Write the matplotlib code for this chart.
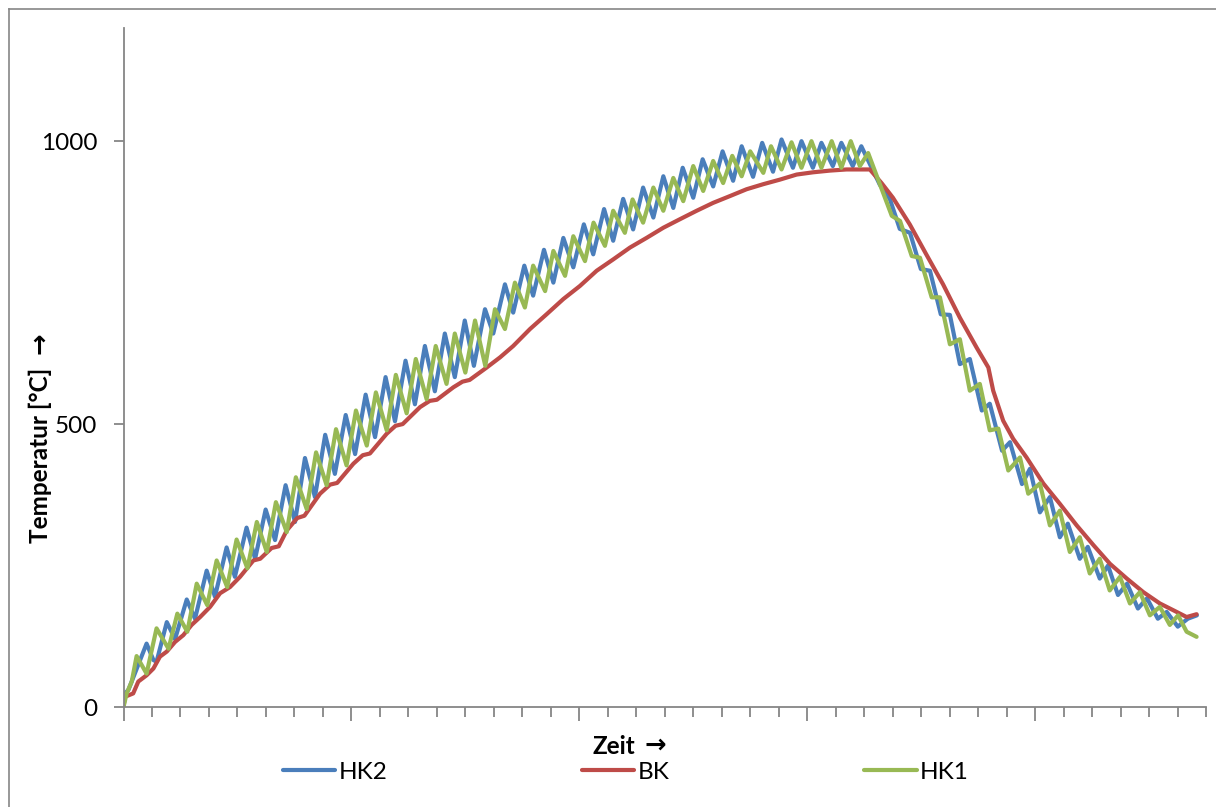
import matplotlib
matplotlib.use("Agg")
import matplotlib.pyplot as plt
from matplotlib.lines import Line2D

plt.rcParams['font.family'] = ['Lato', 'DejaVu Sans']

# Zeit in Teilstrichen der x-Achse, Temperatur in °C
zeit_hk2 = [0.00, 0.05, 0.17, 0.81, 1.05, 1.16, 1.52, 1.81, 2.22, 2.51, 2.92, 3.21,
            3.62, 3.91, 4.32, 4.62, 4.99, 5.32, 5.69, 6.02, 6.37, 6.72, 7.08, 7.42,
            7.80, 8.13, 8.50, 8.83, 9.20, 9.53, 9.90, 10.23, 10.58, 10.93, 11.28, 11.63,
            11.98, 12.30, 12.69, 12.98, 13.39, 13.68, 14.07, 14.38, 14.76, 15.09, 15.44,
            15.79, 16.16, 16.49, 16.87, 17.19, 17.54, 17.89, 18.24, 18.60, 18.95, 19.30,
            19.63, 20.00, 20.33, 20.70, 21.03, 21.40, 21.70, 22.10, 22.42, 22.80, 23.10,
            23.50, 23.80, 24.20, 24.50, 24.90, 25.20, 25.60, 25.90,
            26.55, 26.90, 27.25, 27.61, 27.99, 28.31, 28.69, 29.01, 29.36, 29.71, 30.13,
            30.41, 30.84, 31.12, 31.54, 31.82, 32.17, 32.52, 32.87, 33.15, 33.57, 33.85,
            34.27, 34.56, 34.91, 35.23, 35.61, 35.93, 36.31, 36.62, 37.01, 37.36, 37.68]
temp_hk2 = [0, 24, 30, 112, 83, 80, 150, 120, 190, 156, 241, 195,
            282, 230, 317, 262, 349, 295, 392, 327, 440, 371, 481, 412,
            516, 447, 552, 477, 583, 505, 612, 535, 638, 558, 660, 583,
            683, 603, 703, 660, 747, 697, 780, 727, 808, 750, 829,
            777, 853, 800, 880, 824, 898, 844, 918, 865, 938, 882,
            953, 900, 968, 920, 982, 930, 991, 937, 997, 946, 1003,
            953, 1000, 953, 997, 956, 997, 956, 991,
            923, 898, 845, 838, 774, 771, 694, 693, 606, 615, 524,
            536, 453, 468, 394, 421, 344, 371, 300, 324, 262, 283,
            227, 250, 198, 218, 174, 192, 156, 168, 142, 156, 162]

zeit_bk = [0.00, 0.05, 0.34, 0.52, 0.81, 1.05, 1.28, 1.52, 1.81, 2.10, 2.39, 2.69,
           3.04, 3.39, 3.74, 4.09, 4.56, 4.80, 5.20, 5.45, 5.73, 6.10, 6.35, 6.90,
           7.25, 7.50, 8.07, 8.40, 8.65, 9.24, 9.55, 9.80, 10.41, 10.75, 11.00, 11.58,
           11.90, 12.15, 12.75,
           13.22, 13.68, 14.27, 14.85, 15.44, 16.02, 16.61, 17.19, 17.78, 18.36, 18.95,
           19.53, 20.12, 20.70, 21.29, 21.87, 22.46, 23.04, 23.63, 24.21, 24.80, 25.38,
           26.20, 26.61, 27.01, 27.60, 28.18, 28.77, 29.36, 29.95, 30.36, 30.53, 30.88,
           31.23, 31.70, 32.29, 32.87, 33.46, 34.05, 34.63, 35.22, 35.80, 36.38, 36.97,
           37.32, 37.67]
temp_bk = [0, 18, 24, 45, 56, 68, 89, 98, 115, 127, 145, 159,
           177, 201, 212, 230, 259, 262, 281, 284, 312, 334, 338, 377,
           393, 396, 430, 445, 448, 483, 497, 500, 530, 541, 543, 565,
           575, 578, 600,
           618, 638, 668, 694, 721, 744, 771, 791, 812, 829, 847,
           862, 877, 891, 903, 915, 924, 932, 941, 945, 948, 950,
           950, 926, 900, 853, 800, 747, 688, 635, 600, 559, 506,
           474, 441, 395, 359, 321, 286, 253, 227, 203, 183, 168,
           159, 164]

zeit_hk1 = [0.00, 0.11, 0.29, 0.46, 0.81, 1.16, 1.58, 1.89, 2.24, 2.57, 2.94, 3.27,
            3.64, 3.97, 4.35, 4.68, 5.03, 5.35, 5.73, 6.05, 6.43, 6.76, 7.13, 7.46,
            7.83, 8.16, 8.54, 8.86, 9.24, 9.56, 9.94, 10.26, 10.64, 10.96, 11.34, 11.63,
            12.00, 12.34, 12.70, 13.04, 13.39, 13.74, 14.09, 14.38, 14.80, 15.09, 15.50,
            15.79, 16.20, 16.50, 16.90, 17.19, 17.60, 17.87, 18.24, 18.60, 18.95, 19.30,
            19.65, 20.00, 20.35, 20.70, 21.05, 21.37, 21.70, 22.00, 22.46, 22.73, 23.10,
            23.45, 23.80, 24.15, 24.50, 24.86, 25.20, 25.53, 25.85, 26.14,
            26.97, 27.26, 27.67, 27.96, 28.37, 28.66, 29.01, 29.36, 29.71, 30.06, 30.41,
            30.71, 31.06, 31.47, 31.76, 32.17, 32.52, 32.87, 33.22, 33.57, 33.92, 34.27,
            34.62, 34.98, 35.33, 35.68, 36.03, 36.38, 36.73, 37.02, 37.32, 37.67]
temp_hk1 = [0, 24, 45, 90, 59, 139, 103, 165, 133, 218, 180, 259,
            212, 296, 245, 327, 274, 362, 309, 406, 350, 450, 392, 491,
            427, 524, 462, 556, 489, 587, 519, 615, 544, 638, 571, 660,
            591, 683, 603, 703, 668, 750, 706, 780, 735, 806, 762,
            832, 788, 856, 815, 877, 838, 897, 856, 918, 877, 935,
            894, 956, 912, 965, 926, 974, 938, 982, 944, 991, 950,
            998, 953, 1000, 953, 1000, 953, 1000, 956, 979,
            868, 859, 797, 794, 724, 724, 641, 650, 559, 571, 489,
            492, 418, 441, 377, 395, 321, 347, 274, 300, 236, 262,
            206, 230, 183, 203, 162, 177, 145, 162, 133, 124]

W, H = 1216, 807
grau = "#868686"
fs = 17.5

fig = plt.figure(figsize=(W / 100, H / 100), dpi=100)
ax = fig.add_axes([123.5 / W, 1 - 707 / H, (1206 - 123.5) / W, (707 - 28) / H])

kw = dict(lw=3, solid_joinstyle="round", solid_capstyle="round")
ax.plot(zeit_hk2, temp_hk2, color="#4A7EBB", label="HK2", **kw)
ax.plot(zeit_bk, temp_bk, color="#BE4B48", label="BK", **kw)
ax.plot(zeit_hk1, temp_hk1, color="#98B954", label="HK1", **kw)

ax.set_xlim(0, 38)
ax.set_ylim(0, 1200)
ax.set_yticks([0, 500, 1000])
ax.set_xticks(range(0, 39, 8))
ax.set_xticks(range(0, 39), minor=True)

for s in ["top", "right"]:
    ax.spines[s].set_visible(False)
for s in ["left", "bottom"]:
    ax.spines[s].set_color(grau)
    ax.spines[s].set_linewidth(1.3)

ax.tick_params(axis="y", length=7, width=1.3, color=grau, labelsize=fs, pad=12)
ax.tick_params(axis="x", which="major", length=10, width=1.3, color=grau, labelbottom=False)
ax.tick_params(axis="x", which="minor", length=7, width=1.3, color=grau)

# Achsentitel, Pfeil separat in DejaVu Sans
fig.text(40 / W, 1 - 455 / H, "Temperatur [°C]", rotation=90, ha="center", va="center",
         fontsize=fs, fontweight="bold")
fig.text(40 / W, 1 - 343 / H, "→", rotation=90, ha="center", va="center",
         fontsize=fs + 1, fontweight="bold", family="DejaVu Sans")
fig.text(614 / W, 1 - 746 / H, "Zeit", ha="center", va="center", fontsize=fs,
         fontweight="bold")
fig.text(655 / W, 1 - 746 / H, "→", ha="center", va="center", fontsize=fs + 1,
         fontweight="bold", family="DejaVu Sans")

fig.legend(loc="center", bbox_to_anchor=(626 / W, 1 - 772 / H), ncol=3, frameon=False,
           fontsize=fs, handlelength=2.15, handletextpad=0.15, columnspacing=8.0)

# Rahmen des Diagrammbereichs (rechts und unten abgeschnitten)
fig.add_artist(Line2D([8.5 / W, 8.5 / W], [0, 1 - 8.5 / H], color=grau, lw=1.2))
fig.add_artist(Line2D([8.5 / W, 1], [1 - 8.5 / H, 1 - 8.5 / H], color=grau, lw=1.2))

fig.savefig("out.png", dpi=100)
